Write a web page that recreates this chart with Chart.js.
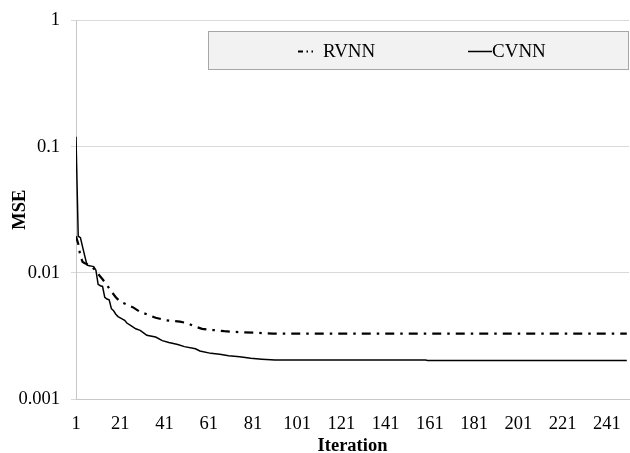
<!DOCTYPE html>
<html>
<head>
<meta charset="utf-8">
<script src="https://cdn.jsdelivr.net/npm/chart.js@4.4.1/dist/chart.umd.min.js"></script>
<style>
  html, body { margin: 0; padding: 0; background: #fff; }
  #wrap { width: 630px; height: 453px; position: relative; }
</style>
</head>
<body>
<div id="wrap"><canvas id="chart"></canvas></div>
<script>
// Values (iteration -> MSE, log scale)
const rvnnIter = [1, 2, 3, 4, 5, 7, 9, 11, 13, 15, 17, 19, 21, 24, 27, 30, 33, 37, 42, 48, 51, 54, 58, 63, 68, 73, 82, 90, 250];
const rvnnMse  = [0.0195, 0.017, 0.0135, 0.0122, 0.0119, 0.0115, 0.0108, 0.0098, 0.0089, 0.008, 0.0071, 0.0064, 0.0059,
                  0.0056, 0.0053, 0.0049, 0.0047, 0.0044, 0.0042, 0.0041, 0.004, 0.0038, 0.0036, 0.00352, 0.00345,
                  0.0034, 0.00335, 0.0033, 0.0033];

const cvnnIter = [1, 2, 3, 4, 5, 6, 7, 8, 9, 10, 11, 12, 13, 14, 15, 16, 17, 18, 19, 20, 21, 23, 24, 26, 28, 30, 32, 33,
                  37, 40, 43, 47, 50, 55, 57, 62, 66, 70, 75, 80, 85, 91, 159, 160, 250];
const cvnnMse  = [0.12, 0.0195, 0.019, 0.016, 0.0135, 0.0115, 0.0114, 0.0113, 0.0112, 0.0105, 0.0081, 0.0079, 0.0078,
                  0.0064, 0.0062, 0.0061, 0.0052, 0.005, 0.0047, 0.0045, 0.0044, 0.0042, 0.004, 0.0038, 0.0036, 0.0035,
                  0.0033, 0.0032, 0.0031, 0.0029, 0.0028, 0.0027, 0.0026, 0.0025, 0.0024, 0.0023, 0.00226, 0.0022,
                  0.00216, 0.0021, 0.00207, 0.00204, 0.00204, 0.00202, 0.00202];

const xTicks = [1, 21, 41, 61, 81, 101, 121, 141, 161, 181, 201, 221, 241];
const yTicks = [0.001, 0.01, 0.1, 1];
const seriesNames = ['RVNN', 'CVNN'];

const SERIF = "'Liberation Serif', 'Times New Roman', serif";

const toPoints = (xs, ys) => xs.map((x, i) => ({ x, y: ys[i] }));

// legend box drawn on the canvas, Excel style
const legendBox = {
  id: 'legendBox',
  afterDraw(chart) {
    const ctx = chart.ctx;
    ctx.save();
    ctx.fillStyle = '#f2f2f2';
    ctx.strokeStyle = '#a6a6a6';
    ctx.lineWidth = 1;
    ctx.fillRect(208.5, 31.5, 420, 38);
    ctx.strokeRect(208.5, 31.5, 420, 38);

    const y = 51.5;
    ctx.strokeStyle = '#000';
    // RVNN sample (dash dot dot)
    ctx.lineWidth = 2;
    ctx.setLineDash([5, 3.5, 1.5, 3.5, 1.5, 10]);
    ctx.beginPath(); ctx.moveTo(298, y); ctx.lineTo(322, y); ctx.stroke();
    // CVNN sample
    ctx.setLineDash([]);
    ctx.lineWidth = 1.5;
    ctx.beginPath(); ctx.moveTo(468, y); ctx.lineTo(492, y); ctx.stroke();

    ctx.fillStyle = '#000';
    ctx.font = '19px ' + SERIF;
    ctx.textBaseline = 'middle';
    ctx.fillText(seriesNames[0], 323, y + 1);
    ctx.fillText(seriesNames[1], 492, y + 1);
    ctx.restore();
  }
};

new Chart(document.getElementById('chart'), {
  type: 'line',
  data: {
    datasets: [
      {
        label: seriesNames[0],
        data: toPoints(rvnnIter, rvnnMse),
        borderColor: '#000',
        borderWidth: 2.2,
        borderDash: [9, 6, 2.5, 6],
        pointRadius: 0,
        tension: 0,
      },
      {
        label: seriesNames[1],
        data: toPoints(cvnnIter, cvnnMse),
        borderColor: '#000',
        borderWidth: 1.5,
        pointRadius: 0,
        tension: 0,
      },
    ],
  },
  options: {
    responsive: true,
    maintainAspectRatio: false,
    animation: false,
    layout: { padding: { left: 0, top: 20.5, right: 1, bottom: 0 } },
    plugins: { legend: { display: false }, tooltip: { enabled: false } },
    scales: {
      x: {
        type: 'linear',
        min: 1,
        max: 251,
        afterBuildTicks: s => { s.ticks = xTicks.map(v => ({ value: v })); },
        afterFit: s => { s.height = 54; s.paddingLeft = 0; s.paddingRight = 0; },
        grid: { display: false, drawTicks: false },
        border: { display: true, color: '#c8c8c8', width: 1 },
        ticks: { color: '#000', font: { family: SERIF, size: 18.5 }, padding: 14, maxRotation: 0, autoSkip: false },
        title: {
          display: true, text: 'Iteration', color: '#000',
          font: { family: SERIF, size: 18.5, weight: 'bold', lineHeight: 0.76 },
          padding: { top: 0, bottom: 0 },
        },
      },
      y: {
        type: 'logarithmic',
        min: 0.001,
        max: 1,
        afterBuildTicks: s => { s.ticks = yTicks.map(v => ({ value: v })); },
        afterFit: s => { s.width = 76; s.paddingTop = 0; s.paddingBottom = 0; },
        grid: { color: '#d9d9d9', tickLength: 5, drawTicks: true },
        border: { display: true, color: '#c8c8c8', width: 1 },
        ticks: { color: '#000', font: { family: SERIF, size: 18.5 }, padding: 11, callback: v => String(v) },
        title: {
          display: true, text: 'MSE', color: '#000',
          font: { family: SERIF, size: 18.5, weight: 'bold' },
          padding: { top: 9, bottom: 0 },
        },
      },
    },
  },
  plugins: [legendBox],
});
</script>
</body>
</html>
